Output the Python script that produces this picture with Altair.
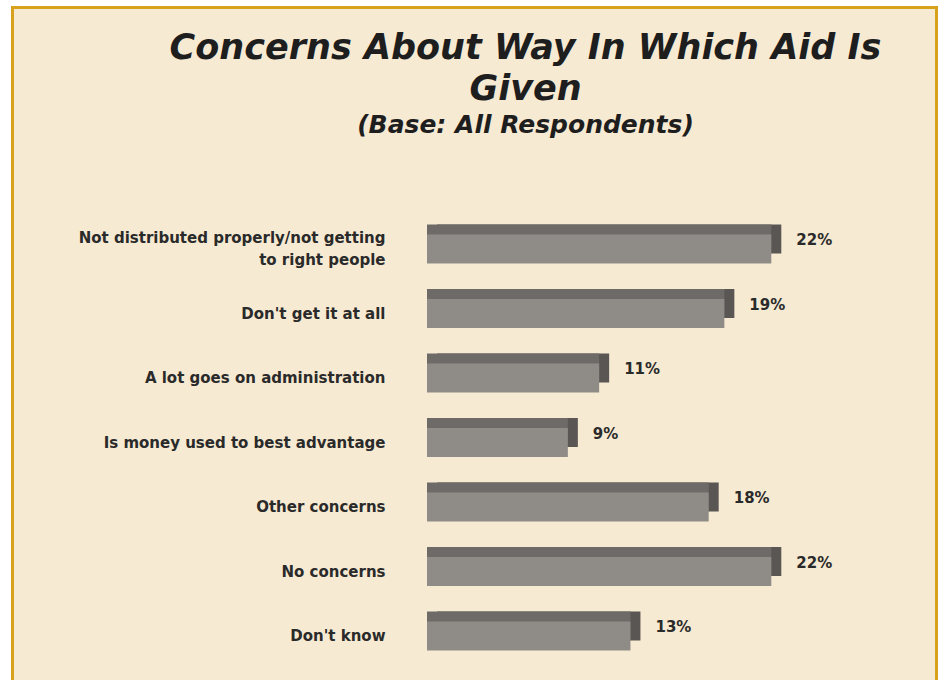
import altair as alt
import pandas as pd

categories = [
    "Not distributed properly/not getting to right people",
    "Don't get it at all",
    "A lot goes on administration",
    "Is money used to best advantage",
    "Other concerns",
    "No concerns",
    "Don't know",
]
values = [22, 19, 11, 9, 18, 22, 13]
pct_labels = [f"{v}%" for v in values]

df = pd.DataFrame({"concern": categories, "pct": values, "label": pct_labels})

FONT = "DejaVu Sans"
FRONT = "#8F8B86"
TOP = "#6E6A67"
SIDE = "#595653"
BORDER = "#D9A21C"
CREAM = "#F7EAD3"
TEXT = "#2A2A2A"

x_scale = alt.Scale(domain=[0, 25], range=[416, 807.25])
y_scale = alt.Scale(domain=categories, range=[210.75, 662.25], paddingInner=0.55, paddingOuter=0.275)

long_label = "Not distributed properly/not getting to right people"
label_expr = (
    f"datum.label == '{long_label}' ? "
    "['Not distributed properly/not getting', 'to right people'] : datum.label"
)

y_axis = alt.Axis(
    title=None, orient="left", offset=-374, ticks=False, domain=False, grid=False,
    labelPadding=0, labelFont=FONT, labelFontSize=15, labelFontWeight="bold",
    labelColor=TEXT, labelLimit=400, labelExpr=label_expr, labelLineHeight=22,
    labelOffset={"condition": {"test": f"datum.value == '{long_label}'", "value": -11}, "value": 0},
    zindex=1,
)

base = alt.Chart(df)

# for bars from zero, x is the value end and x2 is the zero end
side = base.mark_bar(color=SIDE, xOffset=10, x2Offset=10, yOffset=-10, y2Offset=-10).encode(
    y=alt.Y("concern:N", scale=y_scale, axis=y_axis, sort=categories),
    x=alt.X("pct:Q", scale=x_scale, axis=None),
)
top = base.mark_bar(color=TOP, x2Offset=5, yOffset=-10, y2Offset=-10).encode(
    y=alt.Y("concern:N", scale=y_scale, sort=categories),
    x=alt.X("pct:Q", scale=x_scale),
)
front = base.mark_bar(color=FRONT).encode(
    y=alt.Y("concern:N", scale=y_scale, sort=categories),
    x=alt.X("pct:Q", scale=x_scale),
)
text = base.mark_text(
    align="left", baseline="middle", dx=25, dy=-9, font=FONT, fontSize=15,
    fontWeight="bold", color=TEXT,
).encode(
    y=alt.Y("concern:N", scale=y_scale, sort=categories),
    x=alt.X("pct:Q", scale=x_scale),
    text="label:N",
)

one = pd.DataFrame({"k": [0]})
border_left = alt.Chart(one).mark_rule(color=BORDER, strokeWidth=3).encode(
    x=alt.value(1.5), y=alt.value(0), y2=alt.value(674))
border_top = alt.Chart(one).mark_rule(color=BORDER, strokeWidth=3).encode(
    x=alt.value(0), x2=alt.value(927), y=alt.value(1.5))
border_right = alt.Chart(one).mark_rule(color=BORDER, strokeWidth=3).encode(
    x=alt.value(925.5), y=alt.value(0), y2=alt.value(674))

chart = alt.layer(side, top, front, text, border_left, border_top, border_right).properties(
    width=927,
    height=674,
    background="white",
    padding={"left": 11, "top": 6, "right": 2, "bottom": 0},
    autosize=alt.AutoSizeParams(type="none"),
    title=alt.TitleParams(
        text=["Concerns About Way In Which Aid Is", "Given"],
        subtitle="(Base: All Respondents)",
        font=FONT, fontSize=35, fontStyle="italic", fontWeight="bold", color="#1E1E1E",
        lineHeight=41,
        subtitleFont=FONT, subtitleFontSize=25, subtitleFontStyle="italic",
        subtitleFontWeight="bold", subtitleColor="#1E1E1E", subtitlePadding=6,
        anchor="middle", frame="group", dx=51, offset=-133,
    ),
).configure_view(fill=CREAM, stroke=None)

chart.save("out.html", embed_options={"renderer": "svg", "actions": False})
